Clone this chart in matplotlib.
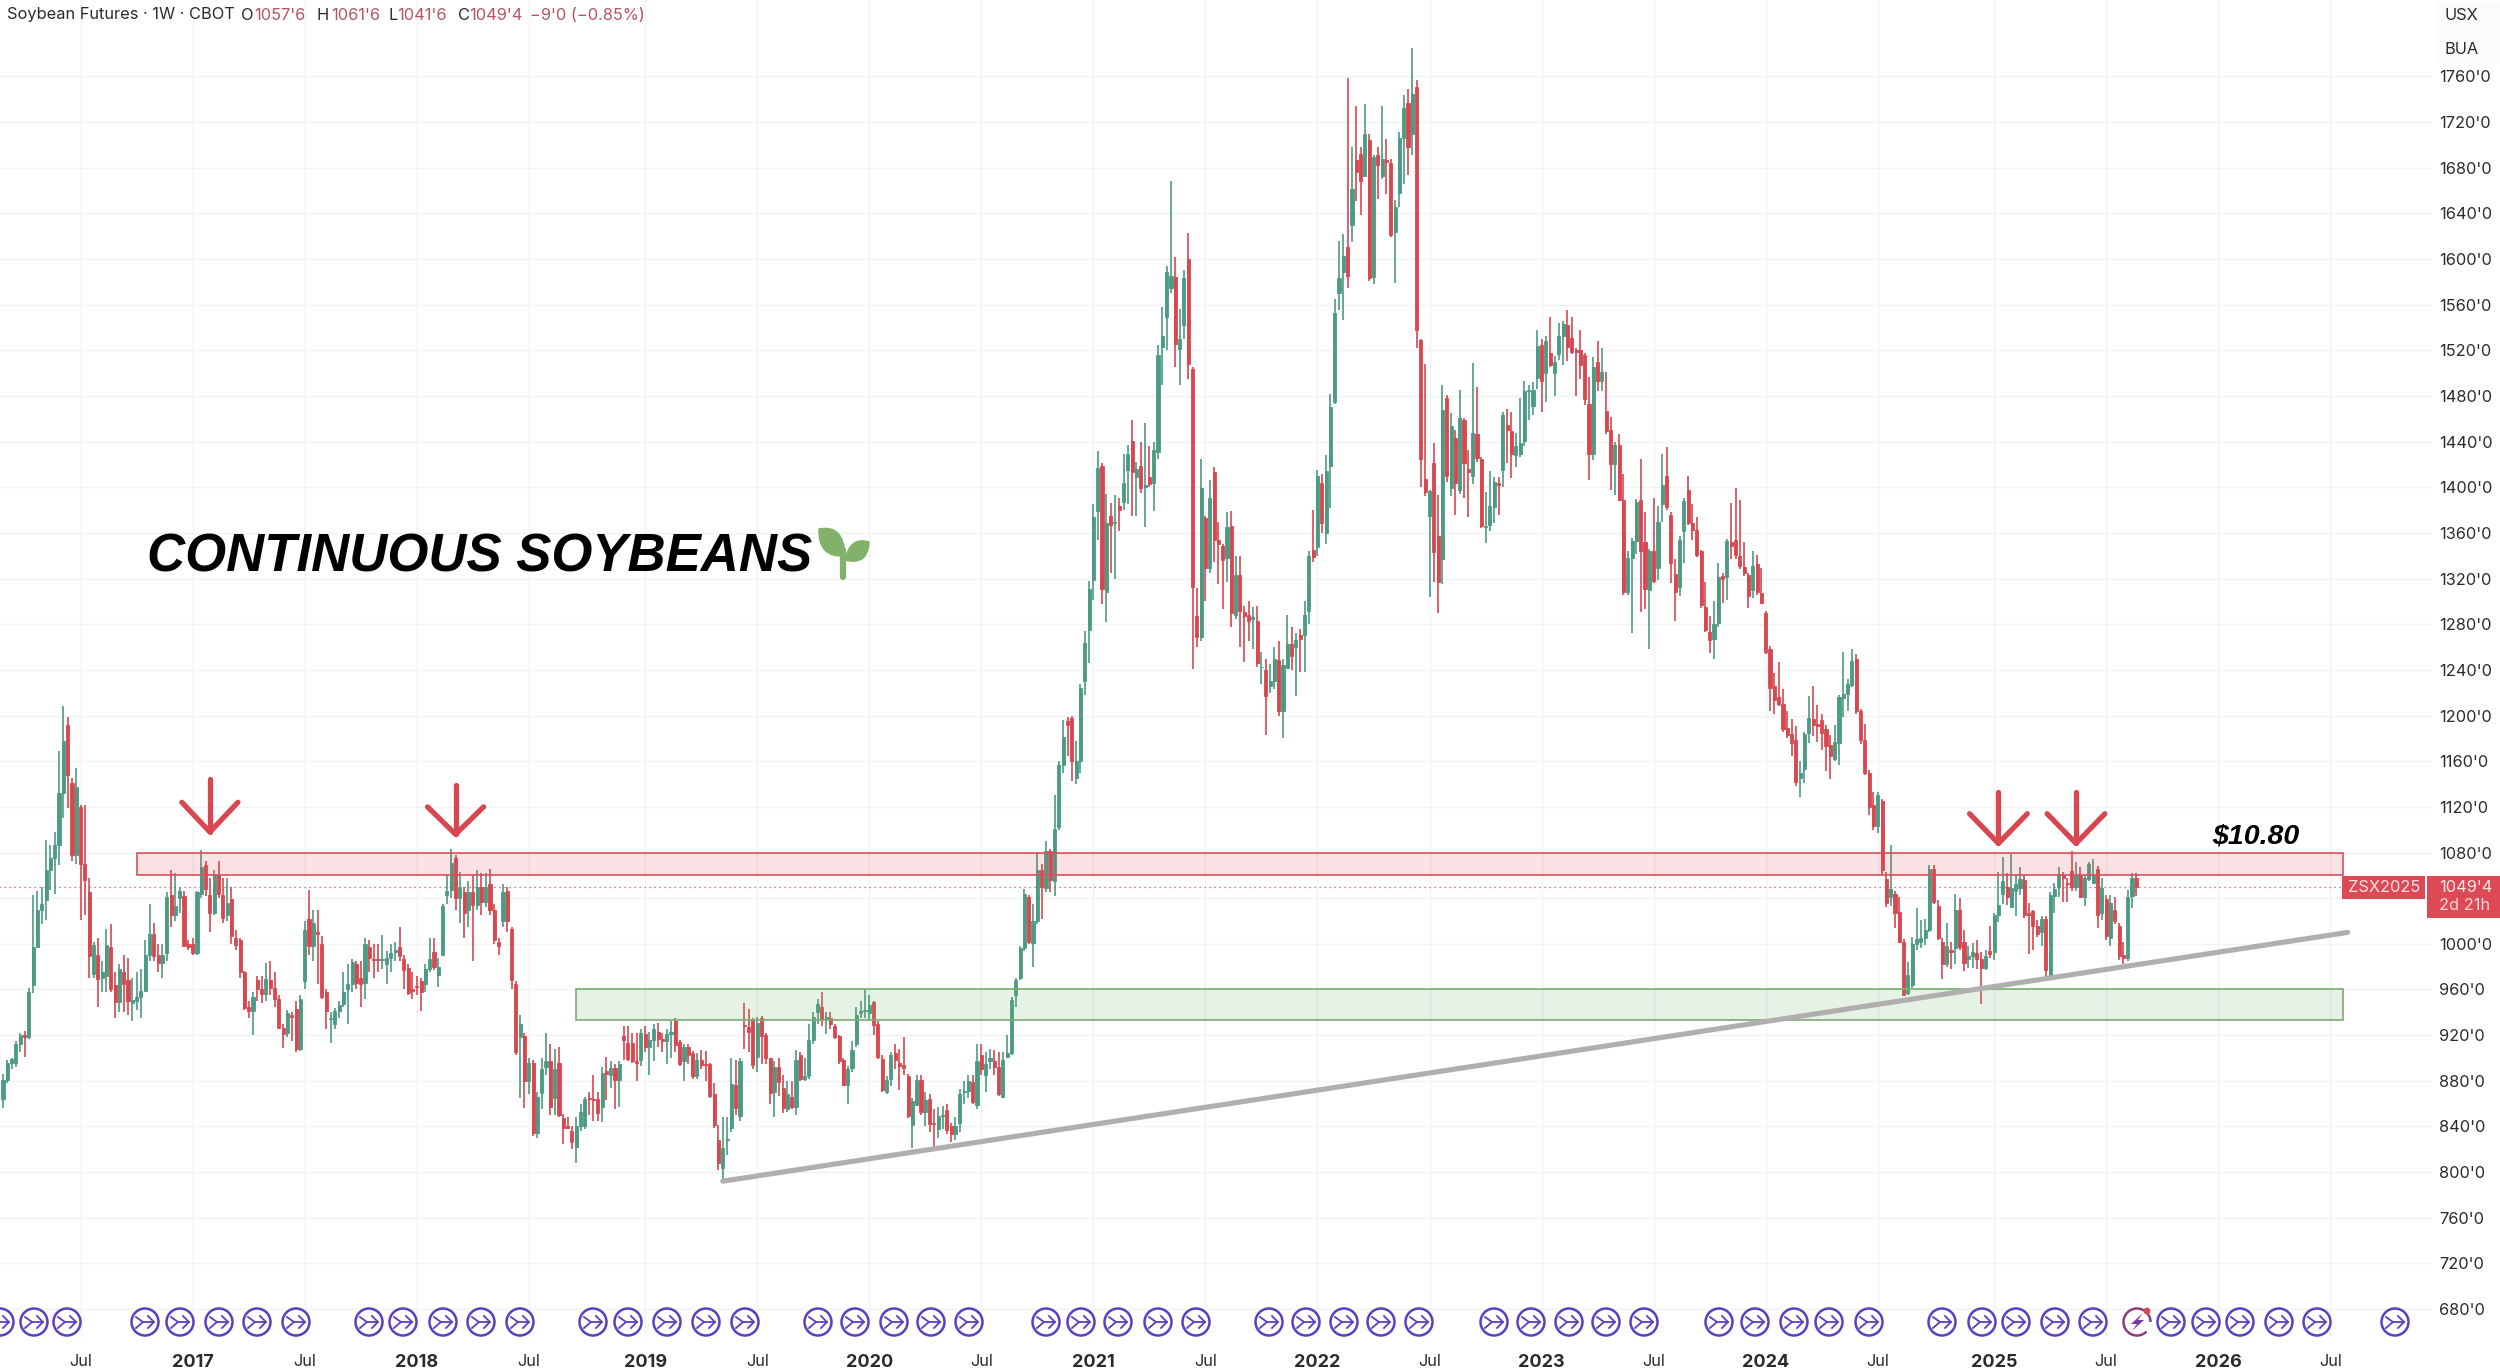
import matplotlib
matplotlib.use('Agg')
import matplotlib.pyplot as plt
from matplotlib.patches import Rectangle, Circle, Arc, PathPatch, Polygon, FancyBboxPatch
from matplotlib.path import Path
import numpy as np

plt.rcParams['font.family'] = ['Inter', 'DejaVu Sans']

opens = [864,881,896,896,912,920,918,964,997,1030,1038,1065,1075,1087,1132,1192,1141,1078,1120,1070,
1045,974,990,970,972,997,964,949,975,968,948,950,953,959,990,1009,990,983,992,1043,
1025,1040,1042,1000,1000,992,1044,1069,1043,1027,1060,1043,1025,1039,1005,1003,975,945,941,968,
960,956,968,961,952,926,922,938,943,908,967,1022,998,1010,1000,958,934,930,941,947,
960,965,982,970,966,997,987,987,986,982,988,993,997,987,979,960,963,967,965,978,
993,973,990,1043,1047,1075,1040,1045,1030,1045,1034,1050,1037,1052,1030,1002,1020,1046,1013,965,
918,919,880,896,834,869,892,897,865,896,847,840,836,822,840,840,865,864,864,857,
889,885,891,881,919,913,913,897,898,921,910,916,923,917,915,921,932,914,897,910,
904,884,898,895,895,868,828,804,828,839,876,849,929,927,933,901,935,920,900,870,
892,874,855,866,857,903,882,884,916,940,945,934,935,928,919,898,876,891,912,939,
941,939,949,930,899,870,882,904,896,894,884,841,859,881,853,864,843,838,849,854,
840,833,843,870,871,879,859,903,885,897,897,892,866,901,904,955,970,996,1041,1001,
1020,1065,1049,1081,1055,
1102,1157,1195,1198,1145,1160,1230,1275,1319,1379,1419,1308,1375,1369,1384,1387,1415,1441,1409,1419,
1400,1409,1404,1431,1523,1549,1575,1584,1521,1542,1600,1504,1287,1269,1373,1329,1413,1354,1349,1338,
1366,1288,1323,1291,1288,1285,1283,1243,1240,1226,1230,1249,1204,1242,1263,1260,1271,1271,1292,1345,
1348,1404,1360,1419,1475,1570,1589,1611,1630,1687,1692,1673,1704,1584,1691,1673,1687,1684,1624,1658,
1706,1737,1710,1751,1529,1407,1375,1421,1357,1337,1478,1399,1443,1398,1459,1416,1410,1447,1425,1365,
1367,1383,1404,1415,1455,1449,1428,1429,1441,1484,1471,1496,1525,1500,1518,1500,1517,1533,1542,1531,
1520,1520,1516,1473,1429,1510,1493,1467,1450,1420,1437,1389,1308,1338,1353,1389,1352,1310,1344,1329,
1385,1410,1376,1324,1313,1362,1398,1369,1363,1344,1295,1273,1267,1281,1322,1321,1352,1354,1340,1330,
1323,1310,1333,1307,1290,1258,1226,1216,1210,1189,1184,1179,1145,1153,1185,1197,1193,1196,1188,1174,
1162,1176,1215,1219,1227,1250,1204,1179,1150,1122,1103,1125,1057,1041,1044,1028,1002,957,964,1000,
1002,1005,1012,1066,1033,1002,982,995,996,1030,1002,987,989,992,987,979,994,993,1025,1044,
1050,1032,1046,1049,1056,1027,1029,1016,1010,1022,971,1042,1050,1060,1053,1064,1050,1060,1041,1057,
1053,1066,1027,1039,1005,1030,1016,990,988,1042,1057.75]

closes = [881,896,899,912,920,918,958,997,1030,1035,1065,1075,1087,1132,1178,1148,1078,1137,1070,1056,
989,999,969,975,999,960,949,978,965,950,951,953,959,990,1009,989,983,990,1041,1025,
1033,1046,998,997,992,1045,1067,1048,1027,1060,1044,1023,1036,1007,999,975,944,941,953,960,
956,969,961,952,926,921,939,936,908,952,1012,998,1018,1009,953,941,935,941,946,958,
965,984,966,965,1000,988,986,986,987,988,992,995,989,977,957,959,962,958,978,987,
980,980,1033,1046,1071,1040,1050,1027,1045,1034,1050,1037,1050,1030,1003,998,1045,1020,968,905,
930,880,896,834,866,890,897,857,890,850,839,839,826,840,853,864,864,863,852,887,
886,891,881,895,916,899,897,896,922,910,916,925,917,915,921,923,911,895,910,903,
884,898,894,894,867,841,808,821,829,877,856,897,928,923,894,931,919,900,869,892,
879,856,868,857,898,882,884,916,936,947,933,936,930,918,897,876,890,907,938,941,
942,946,929,901,872,881,903,898,893,891,849,862,881,853,863,842,842,849,850,837,
833,840,868,871,880,861,897,890,895,900,892,868,898,904,951,968,996,1044,1002,1020,
1065,1050,1081,1056,1101,
1157,1181,1192,1160,1160,1224,1264,1311,1374,1417,1311,1369,1367,1370,1380,1404,1429,1413,1416,1399,
1402,1403,1433,1516,1533,1589,1585,1526,1530,1583,1508,1313,1269,1399,1329,1391,1354,1350,1336,1365,
1290,1323,1292,1287,1283,1286,1246,1243,1217,1230,1250,1204,1244,1263,1252,1266,1267,1288,1340,1339,
1410,1369,1414,1470,1553,1583,1603,1585,1661,1676,1668,1710,1583,1689,1682,1688,1685,1621,1646,1706,
1732,1698,1745,1538,1425,1396,1397,1343,1317,1468,1410,1454,1404,1461,1421,1413,1448,1426,1366,1366,
1384,1405,1402,1463,1450,1429,1436,1439,1484,1485,1485,1524,1493,1528,1507,1510,1533,1543,1523,1519,
1519,1507,1477,1429,1505,1493,1501,1449,1420,1437,1389,1308,1338,1353,1387,1344,1311,1344,1318,1370,
1402,1383,1334,1308,1354,1388,1369,1363,1341,1297,1275,1266,1280,1321,1320,1353,1349,1341,1331,1325,
1305,1331,1308,1299,1256,1224,1214,1210,1188,1183,1176,1142,1150,1184,1198,1192,1191,1185,1173,1165,
1177,1216,1219,1228,1248,1204,1179,1150,1120,1103,1130,1065,1036,1048,1027,1002,955,973,1000,1004,
1005,1012,1066,1037,1005,982,998,993,1030,997,983,989,993,987,979,989,991,1025,1034,1055,
1041,1049,1052,1057,1025,1025,1016,1009,1022,977,1043,1048,1060,1058,1052,1050,1060,1041,1058,1070,
1060,1025,1049,1007,1036,1020,989,988,1041,1058,1049.5]

highs = [886,898,900,915,922,924,961,1043,1046,1050,1091,1087,1098,1169,1208,1199,1145,1154,1122,1122,
1058,1002,1005,985,1013,1017,975,982,990,988,970,975,978,1003,1035,1018,1000,1000,1045,1065,
1062,1050,1046,1003,1005,1046,1082,1073,1058,1065,1073,1058,1058,1050,1012,1005,976,950,958,972,
972,983,985,975,955,930,942,940,950,955,1020,1047,1030,1030,1007,960,940,944,950,975,
982,987,985,985,1005,1003,1000,1000,1008,994,1000,1002,1015,990,982,975,972,970,982,1005,
1005,988,1035,1060,1083,1078,1063,1050,1055,1060,1065,1062,1062,1066,1035,1005,1052,1050,1015,967,
938,922,900,898,870,900,922,912,908,910,851,848,840,848,860,866,870,885,870,892,
901,897,895,897,928,928,922,922,925,928,923,930,931,922,925,932,935,916,912,912,
906,904,907,906,896,878,841,848,848,900,898,900,948,943,935,936,937,922,900,897,
900,885,880,880,907,905,900,930,940,952,958,940,940,930,920,900,893,915,945,950,
960,955,950,932,903,884,905,912,908,918,886,865,885,885,870,868,855,857,858,860,
843,848,873,880,885,885,912,912,905,908,907,905,905,920,953,970,998,1048,1043,1035,
1080,1070,1090,1083,1130,
1160,1196,1199,1200,1178,1228,1274,1318,1385,1432,1421,1394,1386,1393,1391,1429,1437,1459,1422,1440,
1456,1436,1440,1525,1558,1594,1668,1602,1556,1590,1623,1505,1312,1425,1375,1406,1418,1370,1350,1378,
1379,1340,1340,1296,1300,1295,1296,1256,1250,1245,1260,1265,1250,1288,1278,1272,1276,1300,1344,1380,
1415,1412,1428,1482,1565,1616,1622,1759,1698,1734,1698,1736,1710,1691,1698,1734,1705,1688,1652,1711,
1744,1749,1785,1757,1530,1508,1398,1439,1393,1490,1481,1465,1450,1485,1461,1433,1509,1488,1427,1396,
1414,1409,1409,1466,1469,1466,1448,1478,1493,1490,1492,1538,1530,1533,1549,1515,1544,1546,1555,1549,
1522,1538,1518,1497,1514,1528,1522,1501,1462,1440,1447,1412,1344,1356,1390,1425,1378,1346,1391,1384,
1429,1435,1378,1337,1357,1391,1410,1385,1374,1345,1317,1287,1300,1334,1325,1355,1386,1399,1389,1352,
1325,1344,1341,1329,1292,1261,1237,1247,1223,1204,1197,1191,1160,1186,1217,1226,1209,1201,1192,1183,
1192,1218,1256,1232,1258,1254,1206,1193,1152,1133,1133,1127,1063,1087,1046,1041,1004,984,1006,1031,
1021,1022,1069,1069,1038,1005,1018,1002,1044,1040,1012,998,1001,1003,993,995,1016,1027,1063,1076,
1062,1079,1061,1067,1060,1036,1030,1021,1024,1024,1045,1053,1067,1063,1058,1081,1072,1067,1060,1072,
1074,1068,1058,1043,1043,1041,1018,1002,1047,1062,1061.75]

lows = [856,878,890,892,905,901,917,957,997,1017,1021,1047,1044,1069,1110,1119,1073,1070,1021,1025,
970,970,945,958,958,958,935,940,940,938,932,942,935,958,985,985,975,970,985,1015,
1020,1027,997,995,990,990,1040,1042,1010,1025,1040,1018,1020,1000,995,970,942,935,920,950,
948,950,955,945,925,909,918,915,905,906,960,990,985,965,952,925,913,925,935,945,
930,958,960,945,952,975,970,975,978,965,975,985,985,960,955,952,955,941,958,975,
977,962,990,1035,1040,1030,1018,1005,1015,985,1030,1025,1032,1025,1000,990,1015,1010,960,903,
865,856,868,832,830,855,885,850,850,848,825,838,820,808,836,838,850,845,845,844,
863,874,855,857,898,897,896,880,893,905,885,897,910,905,895,900,905,893,880,895,
882,882,890,880,865,839,802,792,815,835,850,845,908,905,890,888,895,895,860,848,
867,852,853,855,850,880,880,882,912,930,928,921,925,917,895,875,860,888,910,935,
935,933,920,899,870,868,875,890,872,885,847,821,858,850,840,835,821,830,838,833,
826,828,835,860,865,860,855,885,870,890,885,867,865,900,903,945,968,994,1000,980,
1017,1022,1045,1045,1042,
1100,1150,1165,1143,1140,1150,1218,1246,1301,1354,1298,1282,1325,1320,1362,1380,1385,1375,1375,1395,
1365,1400,1379,1425,1490,1520,1570,1505,1490,1530,1495,1241,1260,1265,1300,1325,1335,1315,1293,1317,
1278,1285,1260,1247,1265,1258,1243,1228,1183,1220,1223,1200,1180,1243,1240,1217,1238,1238,1280,1335,
1340,1360,1350,1382,1473,1555,1547,1575,1615,1651,1639,1673,1581,1578,1653,1670,1657,1619,1579,1646,
1666,1674,1691,1522,1400,1392,1304,1317,1290,1315,1405,1392,1376,1394,1391,1374,1403,1422,1364,1351,
1362,1369,1376,1400,1421,1408,1418,1427,1436,1459,1463,1486,1466,1475,1505,1480,1512,1507,1511,1517,
1480,1495,1472,1406,1424,1484,1484,1447,1398,1393,1388,1306,1306,1272,1342,1291,1293,1258,1316,1319,
1370,1380,1316,1283,1305,1334,1367,1354,1339,1294,1273,1255,1250,1278,1299,1301,1337,1337,1328,1322,
1294,1303,1306,1298,1254,1204,1201,1208,1186,1180,1165,1138,1129,1141,1176,1182,1177,1170,1151,1144,
1160,1157,1199,1204,1225,1201,1175,1148,1113,1100,1097,1060,1032,1033,1014,1001,954,955,961,995,
996,999,1010,1035,1003,969,980,978,982,995,976,979,979,978,947,977,988,986,1019,1035,
1034,1031,1024,1043,1023,991,995,1006,998,971,969,1027,1041,1037,1037,1046,1046,1040,1033,1055,
1052,1014,1021,1003,998,1017,986,982,985,1031,1041.75]

price_ticks = list(range(680, 1761, 40))
time_pos = [18,44,70,96,122,149,175,201,227,253,279,305,331,357,383,409,435,462,488,514,540]
time_labels = ['Jul','2017','Jul','2018','Jul','2019','Jul','2020','Jul','2021','Jul','2022',
               'Jul','2023','Jul','2024','Jul','2025','Jul','2026','Jul']

red_zone = (31, 543, 1060, 1080)
green_zone = (133, 543, 933, 960)
trend_x = [167, 544]
trend_y = [792, 1010]
last_price = 1049.5

# tip bar, half width, tip price, wing price, top price
arrows = [(48, 6.5, 1098, 1124, 1144), (105, 6.5, 1096, 1120, 1139),
          (463, 6.7, 1088, 1114, 1133), (481, 6.7, 1088, 1114, 1133)]

event_px = [0,34,67,145,180,219,257,296,369,403,443,481,520,593,628,667,706,745,818,855,894,931,969,
            1046,1081,1118,1158,1196,1269,1306,1344,1381,1419,1494,1531,1569,1606,1644,1719,1755,
            1794,1829,1869,1942,1982,2016,2055,2093,2171,2206,2240,2279,2317,2395]
flash_px = 2137

GREEN = '#4b9a84'
RED = '#d8474f'
PURPLE = '#5b3fc0'
TXT = '#2b2b2f'
VAL = '#b65464'

fig = plt.figure(figsize=(25, 13.71), dpi=100)
ax = fig.add_axes([0, 34/1371, 2432/2500, 1337/1371])

x = np.arange(len(opens))
o = np.array(opens)
c = np.array(closes)
cols = [GREEN if c[i] >= o[i] else RED for i in x]

ax.vlines(x, lows, highs, colors=cols, linewidth=1.2, zorder=3)
ax.bar(x, np.abs(c - o), bottom=np.minimum(o, c), width=0.72, color=cols, edgecolor=cols, linewidth=0.6, zorder=4)

ax.hlines(last_price, -1, 542.5, colors='#c9505a', linewidth=0.9, linestyles=(0, (1, 3)), zorder=5)

for zone, face, edge in [(red_zone, '#e2545f', '#d4505c'), (green_zone, '#6fb368', '#7aab70')]:
    ax.add_patch(Rectangle((zone[0], zone[2]), zone[1]-zone[0], zone[3]-zone[2], facecolor=face, alpha=0.17, edgecolor='none', zorder=6))
    ax.add_patch(Rectangle((zone[0], zone[2]), zone[1]-zone[0], zone[3]-zone[2], facecolor='none', edgecolor=edge, linewidth=1.2, zorder=6))

ax.plot(trend_x, trend_y, color='#b0aeae', linewidth=3.7, solid_capstyle='round', zorder=7)

for a in arrows:
    ax.plot([a[0], a[0]], [a[4], a[2]], color=RED, linewidth=3.8, solid_capstyle='round', zorder=8)
    ax.plot([a[0]-a[1], a[0], a[0]+a[1]], [a[3], a[2], a[3]], color=RED, linewidth=3.8,
            solid_capstyle='round', solid_joinstyle='round', zorder=8)

ax.set_xlim(-0.7, 563.6)
ax.set_ylim(655.5, 1827)
ax.yaxis.tick_right()
# the 1040 label sits behind the price tag in the original, only its grid line shows
ax.set_yticks(price_ticks, ["" if v == 1040 else f"{v}'0" for v in price_ticks], fontsize=11.8, color=TXT)
ax.set_xticks(time_pos, time_labels, fontsize=11.8, color=TXT)
for lab in ax.get_xticklabels():
    if lab.get_text() != 'Jul':
        lab.set_fontweight('bold')
        lab.set_fontsize(13)
ax.tick_params(length=0, pad=5)
ax.tick_params(axis='x', pad=12)
ax.grid(True, color='#f1f2f4', linewidth=1.0, zorder=0)
ax.set_axisbelow(True)
for s in ax.spines.values():
    s.set_visible(False)

# overlay in image pixels for the pane decorations
ov = fig.add_axes([0, 0, 1, 1], zorder=10)
ov.set_xlim(0, 2500)
ov.set_ylim(1371, 0)
ov.axis('off')
ov.patch.set_alpha(0)

header = [(7, "Soybean Futures · 1W · CBOT", TXT), (241, "O", TXT), (254, "1057'6", VAL), (316, "H", TXT),
          (331, "1061'6", VAL), (389, "L", TXT), (397, "1041'6", VAL), (458, "C", TXT), (469, "1049'4", VAL),
          (530, "−9'0 (−0.85%)", VAL)]
for hx, s, col in header:
    ov.text(hx, 15, s, fontsize=11.8, color=col, va='center', ha='left')

ov.text(147, 558, 'CONTINUOUS SOYBEANS', family='Liberation Sans', fontsize=38, fontweight='bold',
        fontstyle='italic', color='black', va='center', ha='left')
ov.text(2212, 837, '$10.80', family='Liberation Sans', fontsize=20.5, fontweight='bold', fontstyle='italic',
        color='black', va='center', ha='left')

# sprout
LEAF = '#82b26a'
ov.plot([843, 843], [577, 550], color=LEAF, linewidth=4.5, solid_capstyle='round')
left_leaf = Path([(819, 529), (844, 524), (845, 556), (818, 558), (819, 529), (819, 529)],
                 [Path.MOVETO, Path.CURVE3, Path.CURVE3, Path.CURVE3, Path.CURVE3, Path.CLOSEPOLY])
right_leaf = Path([(869, 542), (850, 536), (845, 560), (868, 566), (869, 542), (869, 542)],
                  [Path.MOVETO, Path.CURVE3, Path.CURVE3, Path.CURVE3, Path.CURVE3, Path.CLOSEPOLY])
ov.add_patch(PathPatch(left_leaf, facecolor=LEAF, edgecolor=LEAF))
ov.add_patch(PathPatch(right_leaf, facecolor=LEAF, edgecolor=LEAF))

# top right unit box
ov.add_patch(FancyBboxPatch((2436, 2), 70, 62, boxstyle='round,pad=0,rounding_size=6', facecolor='#fbfbfb', edgecolor='none', zorder=1))
ov.text(2444, 15, 'USX', fontsize=11.8, color=TXT, va='center', ha='left', zorder=2)
ov.text(2444, 49, 'BUA', fontsize=11.8, color=TXT, va='center', ha='left', zorder=2)

# price tags
ov.add_patch(Rectangle((2342, 876), 83, 23, facecolor='#dd4a55', edgecolor='none'))
ov.text(2384, 887.5, 'ZSX2025', fontsize=11.8, color='#fbe4e6', va='center', ha='center')
ov.add_patch(Rectangle((2427, 876), 73, 42, facecolor='#dd4a55', edgecolor='none'))
ov.text(2439, 887.5, "1049'4", fontsize=11.8, color='#fde9ea', va='center', ha='left')
ov.text(2439, 906, '2d 21h', fontsize=11.8, color='#f9d5d8', va='center', ha='left')

# event icons on the time scale
icon_y = 1322
for px in event_px:
    ov.add_patch(Circle((px, icon_y), 13.5, facecolor='white', edgecolor=PURPLE, linewidth=1.8, zorder=3))
    ov.plot([px-9, px-2, px-9], [icon_y-5, icon_y, icon_y+6], color=PURPLE, linewidth=1.3, zorder=4)
    ov.plot([px-2, px+9], [icon_y, icon_y], color=PURPLE, linewidth=1.3, zorder=4)
    ov.plot([px+3, px+9, px+3], [icon_y-6, icon_y, icon_y+6], color=PURPLE, linewidth=1.3, zorder=4)

ov.add_patch(Arc((flash_px, icon_y), 27, 27, angle=0, theta1=45, theta2=360, color='#8a3f7e', linewidth=1.8, zorder=3))
ov.add_patch(Polygon([(flash_px+6, icon_y-9), (flash_px-6, icon_y+2), (flash_px, icon_y+2), (flash_px-5, icon_y+9),
                      (flash_px+7, icon_y-2), (flash_px+1, icon_y-2)], closed=True, facecolor='#7a3ba0', edgecolor='none', zorder=4))
ov.add_patch(Circle((flash_px+10, icon_y-11), 3.4, facecolor='#d8474f', edgecolor='none', zorder=5))

fig.savefig('out.png', dpi=100, facecolor='white')
